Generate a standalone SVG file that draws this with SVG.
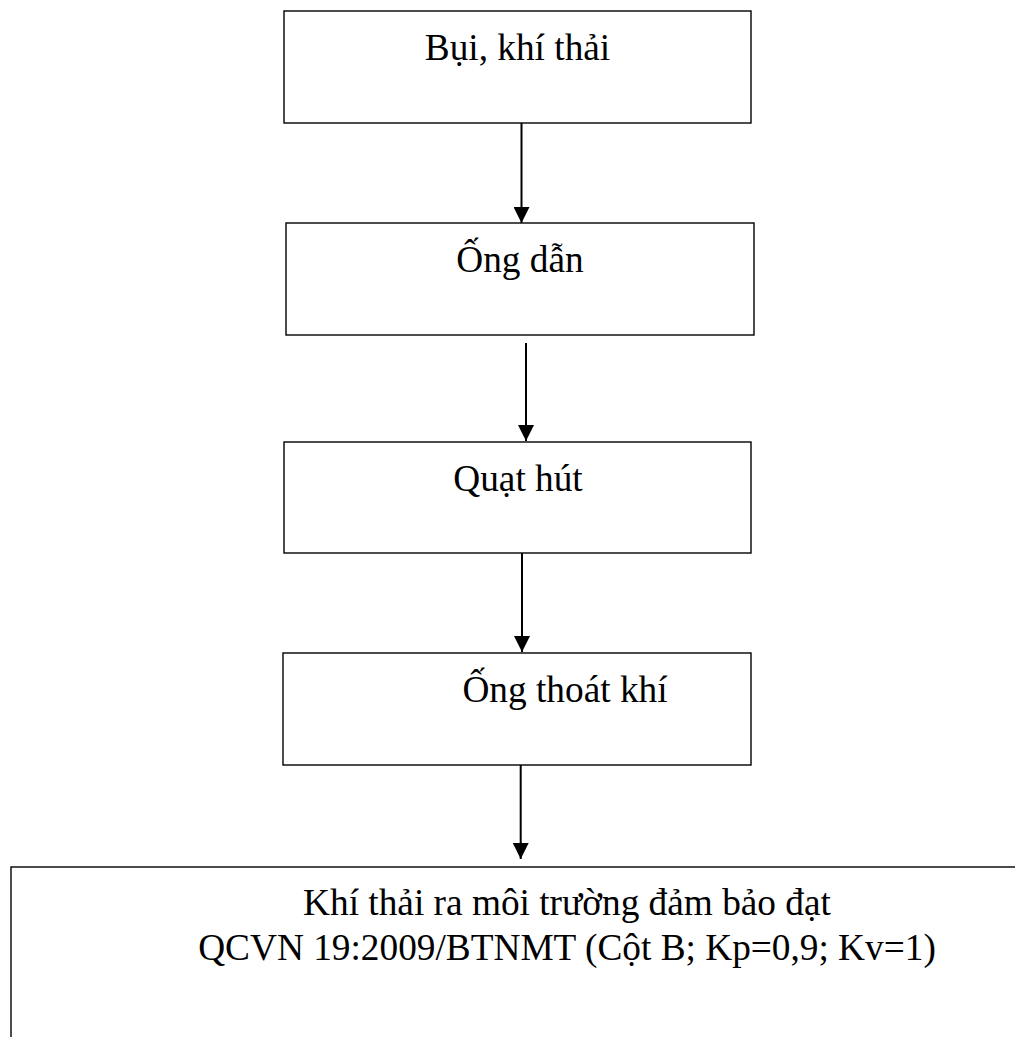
<svg xmlns="http://www.w3.org/2000/svg" width="1015" height="1037" viewBox="0 0 1015 1037">
  <style>
    .box { fill: #ffffff; stroke: #000000; stroke-width: 1.4; }
    .lbl { font-family: "Liberation Serif", "Times New Roman", serif; font-size: 37.3px; fill: #000000; }
    .flow { stroke: #000000; stroke-width: 2; fill: none; marker-end: url(#head); }
  </style>
  <defs>
    <marker id="head" markerUnits="userSpaceOnUse" markerWidth="16" markerHeight="16" refX="16" refY="8" orient="auto">
      <path d="M0,0 L16,8 L0,16 z" fill="#000000"/>
    </marker>
  </defs>
  <rect width="1015" height="1037" fill="#ffffff"/>

  <g id="connectors">
    <line class="flow" x1="521.5" y1="123" x2="521.5" y2="223"/>
    <line class="flow" x1="526" y1="343" x2="526" y2="441"/>
    <line class="flow" x1="522" y1="553" x2="522" y2="652"/>
    <line class="flow" x1="520.7" y1="762" x2="520.7" y2="859"/>
  </g>

  <g id="node-bui-khi-thai">
    <rect class="box" x="284" y="11" width="467" height="112"/>
    <text class="lbl" x="517.5" y="60" text-anchor="middle">Bụi, khí thải</text>
  </g>

  <g id="node-ong-dan">
    <rect class="box" x="286" y="223" width="468" height="112"/>
    <text class="lbl" x="520" y="271.5" text-anchor="middle">Ống dẫn</text>
  </g>

  <g id="node-quat-hut">
    <rect class="box" x="284" y="442" width="467" height="111"/>
    <text class="lbl" x="518" y="490.5" text-anchor="middle">Quạt hút</text>
  </g>

  <g id="node-ong-thoat-khi">
    <rect class="box" x="283" y="653" width="468" height="112"/>
    <text class="lbl" x="565" y="701.5" text-anchor="middle">Ống thoát khí</text>
  </g>

  <g id="node-khi-thai-ra-moi-truong">
    <rect class="box" x="11" y="867" width="1020" height="200"/>
    <text class="lbl" x="567" y="915" text-anchor="middle">Khí thải ra môi trường đảm bảo đạt</text>
    <text class="lbl" x="567" y="960" text-anchor="middle">QCVN 19:2009/BTNMT (Cột B; Kp=0,9; Kv=1)</text>
  </g>
</svg>
